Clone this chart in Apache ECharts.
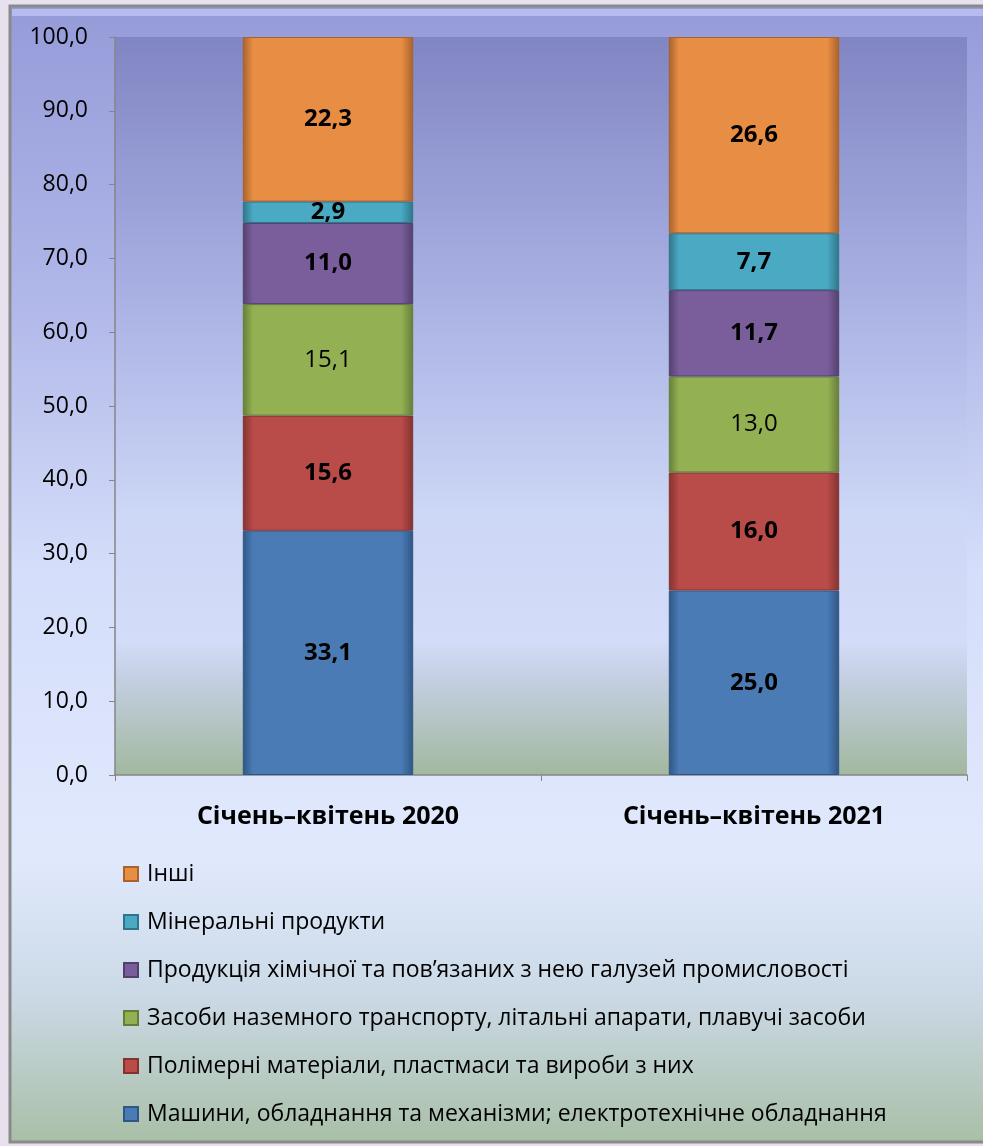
<!DOCTYPE html>
<html><head><meta charset="utf-8">
<script src="https://cdn.jsdelivr.net/npm/echarts@6/dist/echarts.min.js"></script>
<style>html,body{margin:0;padding:0;background:#e6e1ec;}#c{width:983px;height:1146px;}</style>
</head><body><div id="c"></div>
<script>
const categories = ['Січень–квітень 2020', 'Січень–квітень 2021'];
const seriesNames = [
  'Машини, обладнання та механізми; електротехнічне обладнання',
  'Полімерні матеріали, пластмаси та вироби з них',
  'Засоби наземного транспорту, літальні апарати, плавучі засоби',
  'Продукція хімічної та пов’язаних з нею галузей промисловості',
  'Мінеральні продукти',
  'Інші'
];
const machines = [33.1, 25.0];
const polymers = [15.6, 16.0];
const transport = [15.1, 13.0];
const chemical = [11.0, 11.7];
const minerals = [2.9, 7.7];
const others = [22.3, 26.6];
const yTicks = [0, 10, 20, 30, 40, 50, 60, 70, 80, 90, 100];

const values = [machines, polymers, transport, chemical, minerals, others];
const colors = ['#4a7bb5', '#b94b48', '#93b153', '#7a5e9c', '#4aa9c3', '#e88d44'];
const dark = ['#2f5684', '#823330', '#667d38', '#53406d', '#2f7588', '#a8622c'];
const boldLabel = [true, true, false, true, true, true];
const FONT = '"Open Sans", "Noto Sans", sans-serif';

function fmt(v) { return v.toFixed(1).replace('.', ','); }

const chart = echarts.init(document.getElementById('c'), null, {renderer: 'canvas'});
const series = seriesNames.map((name, i) => ({
  name: name,
  type: 'bar',
  stack: 'total',
  barWidth: '40%',
  data: values[i],
  itemStyle: {
    color: {
      type: 'linear', x: 0, y: 0, x2: 1, y2: 0,
      colorStops: [
        {offset: 0, color: dark[i]},
        {offset: 0.06, color: colors[i]},
        {offset: 0.93, color: colors[i]},
        {offset: 1, color: dark[i]}
      ]
    },
    borderColor: dark[i],
    borderWidth: 1
  },
  label: {
    show: true,
    position: 'inside',
    formatter: p => fmt(p.value),
    color: '#000',
    fontFamily: FONT,
    fontSize: 24,
    fontWeight: boldLabel[i] ? 'bold' : 'normal'
  }
}));

chart.setOption({
  animation: false,
  backgroundColor: 'transparent',
  graphic: [{
    type: 'rect',
    z: -10,
    shape: {x: 10, y: 6, width: 990, height: 1136},
    style: {
      fill: {
        type: 'linear', x: 0, y: 0, x2: 0, y2: 1,
        colorStops: [
          {offset: 0, color: '#959bd8'},
          {offset: 0.25, color: '#afb6e8'},
          {offset: 0.5, color: '#d5defa'},
          {offset: 0.75, color: '#e0e9fc'},
          {offset: 0.87, color: '#cbd9e6'},
          {offset: 1, color: '#a8bfa6'}
        ]
      },
      stroke: '#8a8a8a',
      lineWidth: 3
    }
  }, {
    type: 'rect',
    z: -9,
    shape: {x: 12, y: 9, width: 990, height: 7},
    style: {fill: 'rgba(190,196,245,0.8)'}
  }],
  grid: {
    left: 115, right: 16, top: 37, bottom: 371,
    show: true,
    borderWidth: 0,
    backgroundColor: {
      type: 'linear', x: 0, y: 0, x2: 0, y2: 1,
      colorStops: [
        {offset: 0, color: '#8185c3'},
        {offset: 0.35, color: '#a9b1e3'},
        {offset: 0.65, color: '#cdd7f6'},
        {offset: 0.82, color: '#d3dcf8'},
        {offset: 0.86, color: '#c6d1e6'},
        {offset: 1, color: '#a2b89f'}
      ]
    }
  },
  legend: {
    orient: 'vertical',
    left: 118,
    top: 857,
    itemWidth: 14,
    itemHeight: 14,
    itemGap: 24,
    icon: 'rect',
    data: seriesNames.slice().reverse(),
    textStyle: {fontFamily: FONT, fontSize: 23, lineHeight: 24, color: '#000', padding: [0, 0, 0, 4]},
    selectedMode: false
  },
  xAxis: {
    type: 'category',
    data: categories,
    axisLine: {lineStyle: {color: '#868686', width: 1.5}},
    axisTick: {show: true, length: 6, lineStyle: {color: '#868686'}},
    axisLabel: {fontFamily: FONT, fontSize: 25, fontWeight: 'bold', color: '#000', margin: 29}
  },
  yAxis: {
    type: 'value',
    min: 0, max: 100, interval: 10,
    splitLine: {show: false},
    axisLine: {show: true, lineStyle: {color: '#868686', width: 1.5}},
    axisTick: {show: true, length: 6, lineStyle: {color: '#868686'}},
    axisLabel: {fontFamily: FONT, fontSize: 23, color: '#000', margin: 27,
      formatter: v => yTicks.includes(v) ? fmt(v) : ''}
  },
  series: series
});
</script></body></html>
